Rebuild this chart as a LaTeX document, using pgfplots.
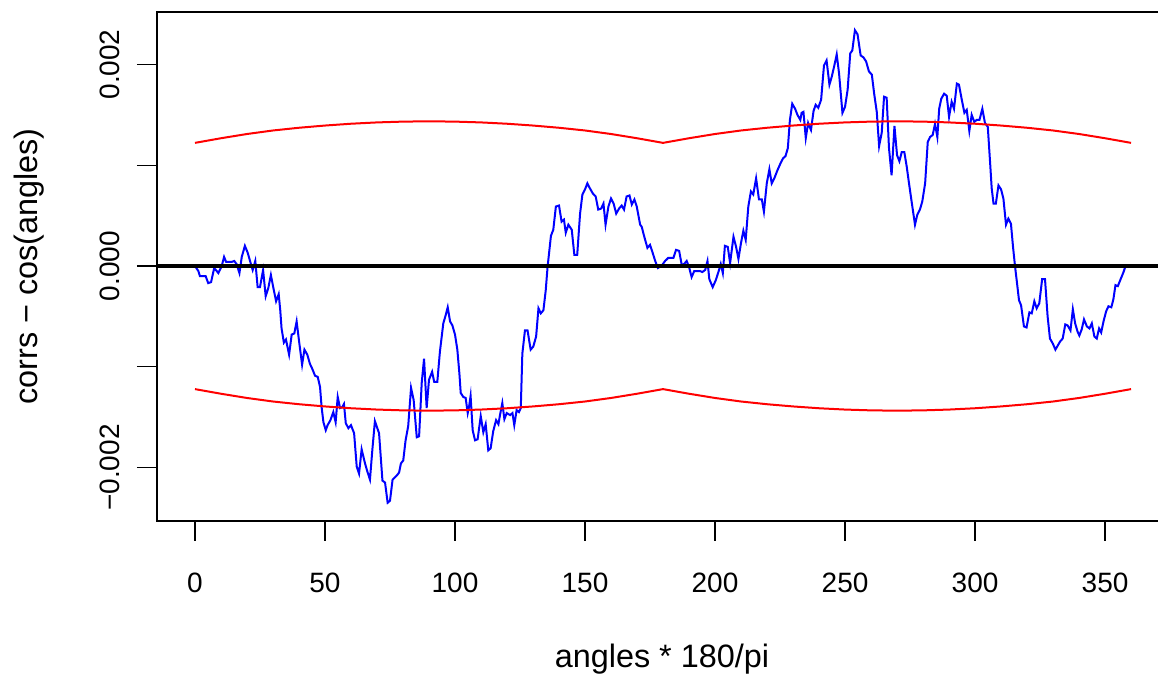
\documentclass[border=0pt]{standalone}
\usepackage{fontspec}
\setmainfont{Liberation Sans}
\usepackage{pgfplots}
\pgfplotsset{compat=1.18}
\begin{document}
\begin{tikzpicture}
\useasboundingbox (0,0) rectangle (579pt,337pt);
\clip (0,0) rectangle (579pt,337pt);
\begin{axis}[
  at={(78.5pt,76.5pt)}, anchor=south west,
  width=505.5pt, height=254.5pt, scale only axis,
  xmin=-14.6, xmax=374.2, ymin=-2.531, ymax=2.521,
  axis line style={black, line width=0.7pt},
  tick style={black, line width=0.7pt},
  tick align=outside, xtick pos=bottom, ytick pos=left,
  major tick length=10pt,
  xtick={0,50,...,350},
  ytick={-2,-1,0,1,2},
  yticklabels={−0.002,,0.000,,0.002},
  font=\fontsize{14}{16}\selectfont,
  /pgf/number format/assume math mode=true,
  xticklabel style={anchor=base, yshift=-26pt},
  yticklabel style={rotate=90, anchor=base, yshift=8.5pt},
  xlabel={angles * 180/pi},
  ylabel={corrs − cos(angles)},
  label style={font=\fontsize{16.2}{18}\selectfont},
  xlabel style={at={(axis description cs:0.4995,-0.2888)}, anchor=base},
  ylabel style={at={(axis description cs:-0.1177,0.5)}, anchor=base, rotate=0},
  clip=true,
]
\addplot[blue, line width=1pt] coordinates {
(0,0) (1.3,-0.05) (1.9,-0.1) (4.1,-0.1) (5.1,-0.17) (6.2,-0.16) (7.4,-0.02) (9.0,-0.07) (10.3,0) (11.2,0.09) (12.0,0.04) (14.1,0.04) (15.1,0.05) (16.0,0.02) (17.1,-0.07) (18.0,0.09) (19.2,0.2) (20.3,0.13) (21.4,0.03) (22.2,-0.04) (23.2,0.05) (24.1,-0.21) (25.0,-0.21) (26.2,-0.04) (27.2,-0.30) (28.2,-0.22) (29.2,-0.09) (30.1,-0.21) (31.2,-0.35) (32.2,-0.28) (32.8,-0.44) (33.3,-0.62) (34.2,-0.76) (35.0,-0.73) (36.2,-0.88) (37.2,-0.68) (38.2,-0.67) (39.1,-0.55) (40.1,-0.76) (41.2,-0.98) (42.1,-0.83)
(43.2,-0.88) (44.2,-0.97) (45.1,-1.02) (46.2,-1.09) (47.2,-1.10) (48.1,-1.20) (48.7,-1.40) (49.4,-1.55) (50.3,-1.63) (51.0,-1.58) (52.1,-1.53) (53.2,-1.45) (54.1,-1.55) (54.9,-1.30) (55.8,-1.41) (56.7,-1.40) (57.3,-1.37) (58.0,-1.56) (59.0,-1.61) (60.0,-1.58) (61.2,-1.66) (62.2,-1.99) (63.1,-2.06) (64.1,-1.82) (65.4,-1.96) (66.3,-2.04) (67.3,-2.12) (68.2,-1.83) (69.2,-1.54) (70.8,-1.66) (72.1,-2.13) (73.1,-2.15) (74.1,-2.35) (75.0,-2.33) (76.0,-2.12) (77.6,-2.08) (78.5,-2.05) (79.2,-1.96) (80.1,-1.93) (81.0,-1.73) (82.0,-1.59) (83.1,-1.21) (84.1,-1.33) (85.3,-1.70) (86.2,-1.69) (87.2,-1.16) (88.1,-0.92)
(89.1,-1.41) (90.0,-1.13) (91.2,-1.05) (92.0,-1.15) (93.2,-1.15) (94.2,-0.85) (95.5,-0.57) (96.4,-0.49) (97.2,-0.41) (98.1,-0.55) (99.0,-0.59) (100.0,-0.68) (100.9,-0.83) (101.7,-1.07) (102.2,-1.26) (103.2,-1.30) (104.1,-1.31) (104.9,-1.46) (105.4,-1.40) (106.0,-1.29) (106.8,-1.63) (107.7,-1.73) (108.7,-1.72) (109.9,-1.49) (110.9,-1.65) (111.8,-1.57) (112.8,-1.83) (113.7,-1.81) (114.7,-1.64) (115.8,-1.53) (116.7,-1.57) (117.3,-1.48) (118.2,-1.36) (119.0,-1.52) (119.9,-1.46) (121.2,-1.48) (122.1,-1.46) (122.8,-1.58) (123.7,-1.43) (124.6,-1.45) (125.3,-1.41) (125.9,-0.87) (126.9,-0.64) (127.9,-0.64) (129.1,-0.83) (130.1,-0.80) (131.2,-0.70) (132.1,-0.42) (133.0,-0.47) (134.0,-0.44)
(134.9,-0.24) (135.6,-0.01) (136.9,0.30) (137.8,0.36) (138.8,0.59) (140.0,0.60) (141.0,0.44) (141.9,0.46) (142.6,0.33) (143.6,0.41) (144.9,0.36) (145.9,0.11) (147.0,0.11) (148.1,0.52) (149.0,0.71) (150.0,0.76) (150.9,0.82) (151.9,0.77) (153.0,0.72) (154.1,0.69) (155.1,0.56) (156.2,0.57) (157.1,0.62) (157.9,0.41) (159.0,0.59) (160.0,0.67) (161.0,0.62) (162.0,0.52) (163.1,0.57) (164.1,0.60) (165.0,0.56) (166.0,0.69) (167.1,0.70) (168.0,0.61) (169.0,0.66) (169.9,0.59) (171.2,0.41) (171.8,0.39) (172.8,0.29) (174.0,0.18) (175.0,0.21) (175.9,0.14) (177.0,0.05) (178.0,-0.02) (179.4,0.0) (180.8,0.05)
(182.0,0.08) (184.0,0.08) (185.0,0.16) (186.2,0.15) (187.2,0.01) (188.1,0.02) (189.1,0.05) (190.0,-0.01) (191.0,-0.11) (192.0,-0.05) (192.9,-0.05) (194.2,-0.05) (195.1,-0.06) (196.2,-0.04) (197.1,0.05) (197.8,-0.13) (199.1,-0.21) (200.3,-0.14) (201.3,-0.06) (202.2,0.02) (203.0,-0.07) (203.8,0.20) (204.9,0.19) (205.8,0.03) (207.1,0.29) (208.1,0.19) (209.0,0.07) (210.0,0.23) (210.9,0.35) (211.8,0.26) (212.8,0.59) (213.8,0.74) (214.7,0.71) (215.8,0.87) (216.9,0.66) (218.0,0.66) (218.8,0.54) (219.9,0.82) (220.9,0.96) (221.8,0.82) (222.8,0.87) (224.0,0.95) (225.2,1.02) (226.2,1.07) (227.1,1.09) (228.0,1.17) (228.8,1.45)
(229.7,1.61) (230.8,1.56) (231.7,1.50) (232.8,1.45) (233.3,1.52) (234.0,1.53) (234.9,1.27) (235.8,1.42) (236.4,1.38) (236.9,1.35) (237.9,1.54) (238.7,1.60) (239.7,1.57) (240.8,1.65) (241.9,1.99) (242.9,2.04) (244.0,1.80) (244.9,1.88) (245.8,1.98) (246.8,2.10) (247.7,1.91) (249.0,1.52) (250.0,1.58) (251.0,1.75) (252.0,2.11) (252.8,2.14) (253.8,2.34) (254.8,2.30) (256.0,2.09) (257.1,2.07) (258.1,2.03) (259.2,1.93) (260.3,1.90) (261.2,1.71) (262.2,1.53) (263.1,1.19) (264.1,1.32) (265.0,1.68) (266.0,1.67) (266.9,1.17) (267.9,0.90) (269.0,1.39) (270.0,1.10) (270.9,1.04)
(271.8,1.13) (272.8,1.13) (273.7,0.99) (274.6,0.82) (275.6,0.64) (276.9,0.41) (277.8,0.51) (278.8,0.56) (279.7,0.64) (280.8,0.82) (281.8,1.23) (282.7,1.28) (283.7,1.30) (284.6,1.41) (285.5,1.28) (286.2,1.56) (287.0,1.66) (288.1,1.71) (289.1,1.69) (290.0,1.48) (291.0,1.63) (291.9,1.56) (293.0,1.81) (293.8,1.80) (294.9,1.65) (295.9,1.52) (296.8,1.55) (297.8,1.34) (298.7,1.50) (299.7,1.43) (300.6,1.45) (301.7,1.45) (302.8,1.56) (303.8,1.42) (304.9,1.38) (305.8,1.02) (306.4,0.77) (307.1,0.62) (308.0,0.62) (309.0,0.80) (310.0,0.76) (310.9,0.67) (311.9,0.41) (312.8,0.47) (313.8,0.42)
(314.6,0.19) (315.4,-0.01) (316.0,-0.14) (316.9,-0.34) (317.7,-0.39) (318.8,-0.60) (319.8,-0.61) (320.9,-0.46) (321.8,-0.47) (322.8,-0.35) (323.7,-0.42) (324.7,-0.37) (325.8,-0.13) (326.9,-0.13) (327.9,-0.50) (328.8,-0.72) (329.9,-0.77) (330.9,-0.83) (331.8,-0.79) (332.7,-0.75) (333.7,-0.72) (334.7,-0.58) (335.6,-0.59) (336.7,-0.64) (337.6,-0.43) (338.5,-0.57) (339.4,-0.65) (340.1,-0.69) (341.0,-0.63) (341.9,-0.53) (343.0,-0.60) (344.0,-0.62) (344.9,-0.57) (345.9,-0.70) (346.8,-0.72) (347.7,-0.62) (348.5,-0.66) (349.4,-0.55) (350.4,-0.45) (351.3,-0.40) (352.4,-0.41) (353.2,-0.33) (354.0,-0.19) (354.9,-0.20) (356.0,-0.13) (357.1,-0.06) (358.0,0.01)
};
\addplot[black, line width=2pt] coordinates {(-20,0) (400,0)};
\addplot[red, line width=1pt] coordinates {
(0,1.222) (10,1.268) (20,1.310) (30,1.345) (40,1.372) (50,1.394) (60,1.412) (70,1.425) (80,1.433) (90,1.436) (100,1.433) (110,1.425) (120,1.412) (130,1.394) (140,1.372) (150,1.345) (160,1.310) (170,1.268) (180,1.222)
(190,1.268) (200,1.310) (210,1.345) (220,1.372) (230,1.394) (240,1.412) (250,1.425) (260,1.433) (270,1.436) (280,1.433) (290,1.425) (300,1.412) (310,1.394) (320,1.372) (330,1.345) (340,1.310) (350,1.268) (360,1.222)
};
\addplot[red, line width=1pt] coordinates {
(0,-1.222) (10,-1.268) (20,-1.310) (30,-1.345) (40,-1.372) (50,-1.394) (60,-1.412) (70,-1.425) (80,-1.433) (90,-1.436) (100,-1.433) (110,-1.425) (120,-1.412) (130,-1.394) (140,-1.372) (150,-1.345) (160,-1.310) (170,-1.268) (180,-1.222)
(190,-1.268) (200,-1.310) (210,-1.345) (220,-1.372) (230,-1.394) (240,-1.412) (250,-1.425) (260,-1.433) (270,-1.436) (280,-1.433) (290,-1.425) (300,-1.412) (310,-1.394) (320,-1.372) (330,-1.345) (340,-1.310) (350,-1.268) (360,-1.222)
};
\end{axis}
\end{tikzpicture}
\end{document}
